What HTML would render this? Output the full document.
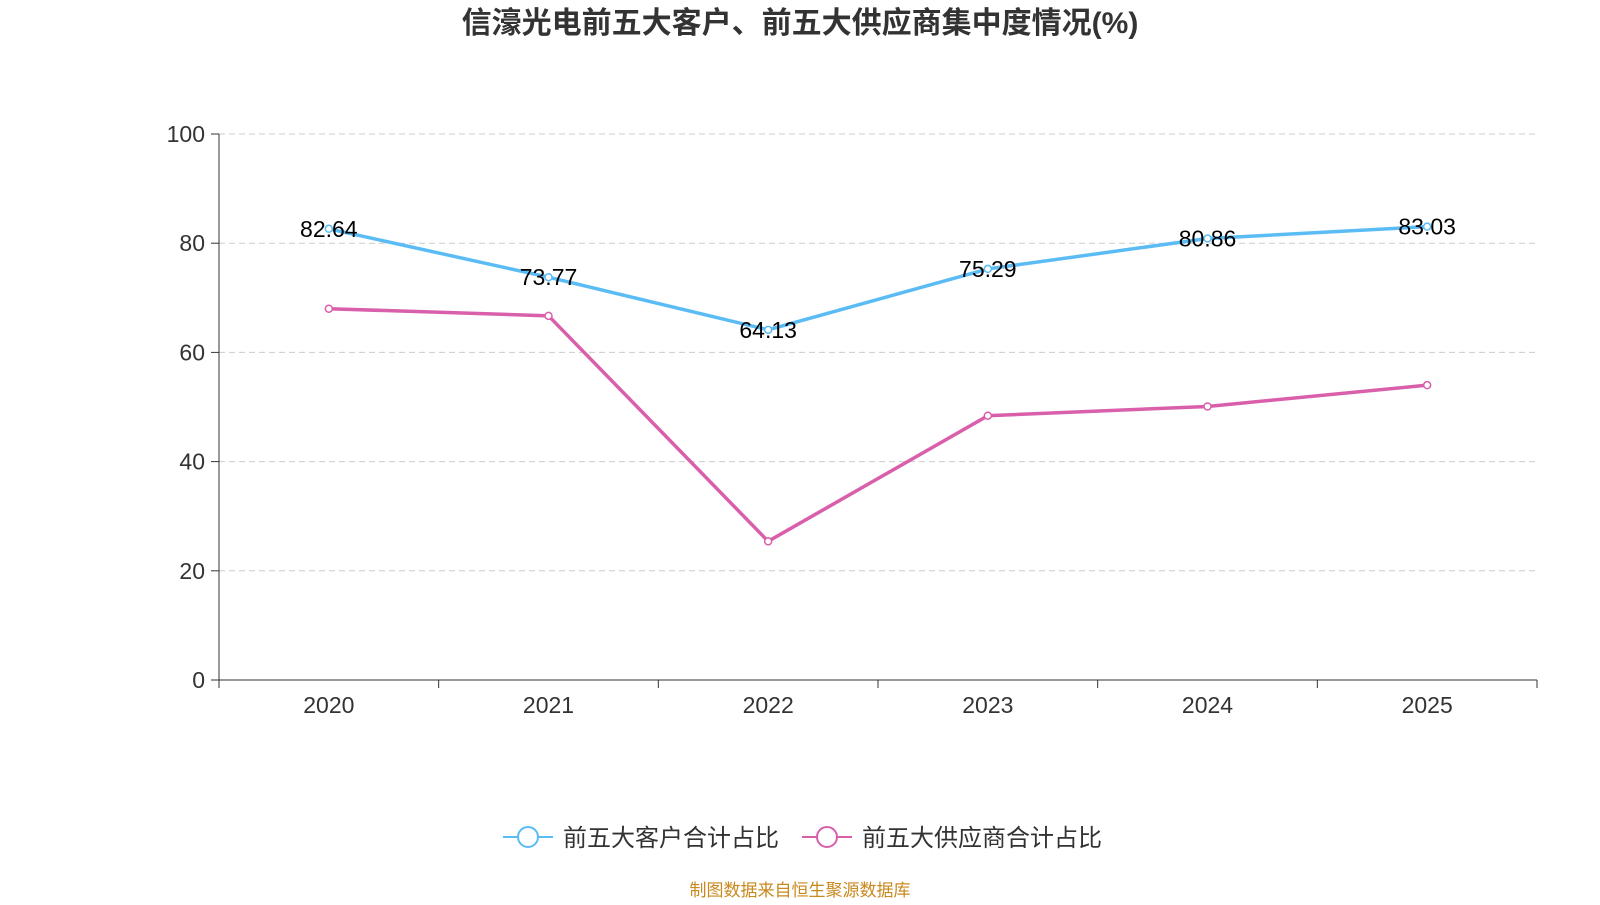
<!DOCTYPE html>
<html><head><meta charset="utf-8"><style>
body{margin:0;background:#fff;width:1600px;height:900px;overflow:hidden;font-family:"Liberation Sans","Noto Sans CJK SC",sans-serif}
</style></head><body>
<svg id="c" width="1600" height="900" xmlns="http://www.w3.org/2000/svg">
<text x="800" y="33" text-anchor="middle" font-size="30" font-weight="bold" fill="#333">信濠光电前五大客户、前五大供应商集中度情况(%)</text>
<g id="grid"></g><g id="axes"></g><g id="series"></g>
<g>
<line x1="503" y1="837" x2="553" y2="837" stroke="#5bbcf5" stroke-width="2"/>
<circle cx="528" cy="837" r="10" fill="#fff" stroke="#5bbcf5" stroke-width="2"/>
<text x="563" y="846" font-size="24" fill="#333">前五大客户合计占比</text>
<line x1="802" y1="837" x2="852" y2="837" stroke="#d95fab" stroke-width="2"/>
<circle cx="827" cy="837" r="10" fill="#fff" stroke="#d95fab" stroke-width="2"/>
<text x="862" y="846" font-size="24" fill="#333">前五大供应商合计占比</text>
</g>
<text x="800" y="896" text-anchor="middle" font-size="17" fill="#c8891e">制图数据来自恒生聚源数据库</text>
</svg>
<script>
const categories=["2020","2021","2022","2023","2024","2025"];
const customers=[82.64,73.77,64.13,75.29,80.86,83.03];
const suppliers=[68.0,66.7,25.4,48.4,50.1,54.0];
const yTicks=[0,20,40,60,80,100];
const NS="http://www.w3.org/2000/svg";
const x0=219,x1=1537,yb=680,yt=134;
const step=(x1-x0)/categories.length;
const X=i=>x0+step*(i+0.5);
const Y=v=>yb-(v/100)*(yb-yt);
function mk(tag,attrs,parent,txt){const e=document.createElementNS(NS,tag);for(const k in attrs)e.setAttribute(k,attrs[k]);if(txt!==undefined)e.textContent=txt;document.getElementById(parent).appendChild(e);return e;}
yTicks.forEach(t=>{
 if(t>0){const g=mk('line',{x1:x0,x2:x1,y1:Y(t),y2:Y(t),stroke:'#ccc','stroke-dasharray':'6,4'},'grid');
 
 }
 mk('line',{x1:x0-8,x2:x0,y1:Y(t),y2:Y(t),stroke:'#333'},'axes');
 const l=mk('text',{x:x0-14,y:Y(t)+8,'text-anchor':'end','font-size':23,fill:'#333'},'axes',t);
 
 
});
mk('line',{x1:x0,x2:x0,y1:yt,y2:yb,stroke:'#333'},'axes');
mk('line',{x1:x0,x2:x1,y1:yb,y2:yb,stroke:'#333'},'axes');
for(let i=0;i<=categories.length;i++)mk('line',{x1:x0+step*i,x2:x0+step*i,y1:yb,y2:yb+8,stroke:'#333'},'axes');
categories.forEach((c,i)=>{const l=mk('text',{x:X(i),y:yb+33,'text-anchor':'middle','font-size':23,fill:'#333'},'axes',c);
 
 });
function series(vals,color,name,labels){
 const p=mk('polyline',{points:vals.map((v,i)=>X(i)+','+Y(v)).join(' '),fill:'none',stroke:color,'stroke-width':3.5},'series');
 
 
 vals.forEach((v,i)=>{const c=mk('circle',{cx:X(i),cy:Y(v),r:3.5,fill:'#fff',stroke:color,'stroke-width':1.5},'series');
  
  
  if(labels){const t=mk('text',{x:X(i),y:Y(v)+8,'text-anchor':'middle','font-size':23,fill:'#000'},'series',v.toFixed(2));
   
   }
 });
}
series(suppliers,'#d95fab','suppliers',false);
series(customers,'#5bbcf5','customers',true);
</script>
</body></html>
